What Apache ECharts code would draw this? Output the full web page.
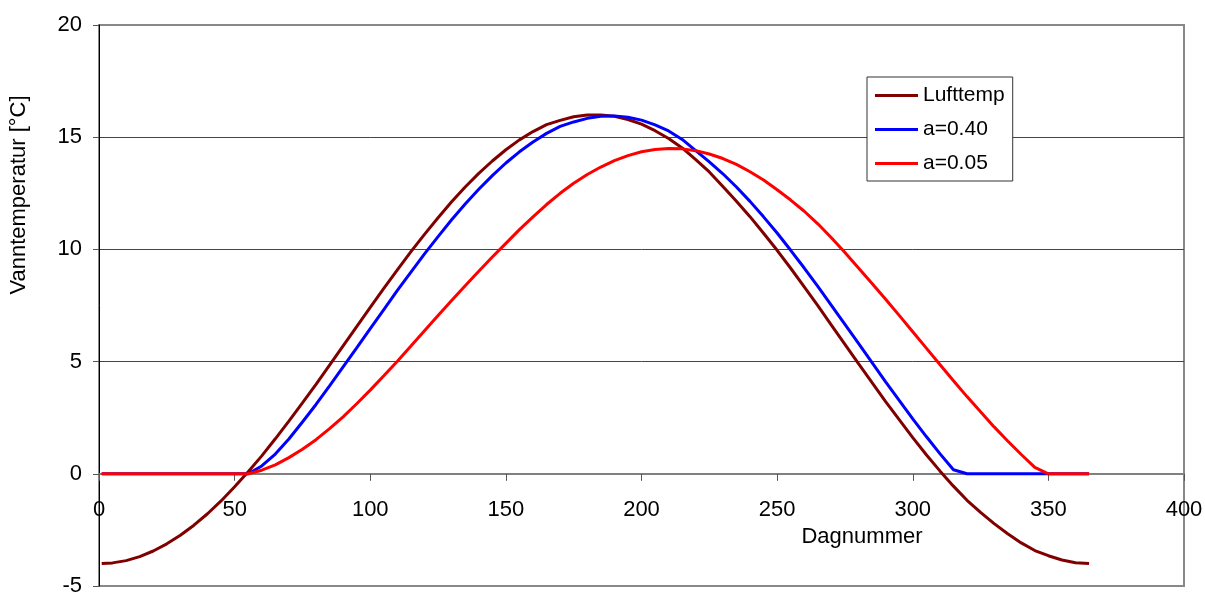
<!DOCTYPE html>
<html>
<head>
<meta charset="utf-8">
<script src="https://cdn.jsdelivr.net/npm/echarts@6/dist/echarts.min.js"></script>
<style>
html,body{margin:0;padding:0;background:#fff;}
#c{width:1205px;height:592px;}
</style>
</head>
<body>
<div id="c"></div>
<script>
const days = [1,5,10,15,20,25,30,35,40,45,
  50,55,60,65,70,75,80,85,90,95,
  100,105,110,115,120,125,130,135,140,145,
  150,155,160,165,170,175,180,185,190,195,
  200,205,210,215,220,225,230,235,240,245,
  250,255,260,265,270,275,280,285,290,295,
  300,305,310,315,320,325,330,335,340,345,
  350,355,360,365];

const lufttemp = [-4.0,-3.97,-3.87,-3.69,-3.44,-3.12,-2.74,-2.29,-1.78,-1.21,
  -0.58,0.09,0.80,1.56,2.35,3.16,3.99,4.84,5.70,6.56,
  7.42,8.26,9.09,9.90,10.67,11.41,12.12,12.78,13.39,13.94,
  14.44,14.88,15.25,15.56,15.75,15.91,15.99,15.99,15.93,15.79,
  15.58,15.29,14.94,14.52,14.00,13.45,12.80,12.15,11.46,10.72,
  9.96,9.16,8.33,7.49,6.63,5.77,4.91,4.06,3.22,2.41,
  1.61,0.85,0.13,-0.55,-1.18,-1.72,-2.22,-2.67,-3.08,-3.42,
  -3.65,-3.84,-3.96,-4.0];

const a040 = [0,0,0,0,0,0,0,0,0,0,
  0,0,0.35,0.88,1.55,2.31,3.09,3.92,4.76,5.61,
  6.47,7.32,8.17,8.99,9.80,10.57,11.32,12.02,12.68,13.29,
  13.85,14.35,14.79,15.17,15.48,15.68,15.84,15.93,15.95,15.89,
  15.76,15.55,15.28,14.90,14.40,13.90,13.37,12.78,12.14,11.45,
  10.73,9.96,9.17,8.35,7.51,6.66,5.81,4.95,4.10,3.27,
  2.45,1.66,0.90,0.18,0,0,0,0,0,0,
  0,0,0,0];

const a005 = [0,0,0,0,0,0,0,0,0,0,
  0,0,0.16,0.40,0.72,1.09,1.52,2.01,2.54,3.12,
  3.73,4.37,5.02,5.69,6.37,7.05,7.72,8.38,9.03,9.66,
  10.27,10.88,11.45,12.00,12.50,12.95,13.34,13.67,13.96,14.18,
  14.35,14.45,14.50,14.48,14.40,14.25,14.05,13.79,13.46,13.09,
  12.66,12.20,11.70,11.14,10.52,9.86,9.17,8.48,7.78,7.06,
  6.33,5.60,4.87,4.15,3.44,2.76,2.09,1.46,0.86,0.29,
  0,0,0,0];

const seriesNames = ['Lufttemp','a=0.40','a=0.05'];
const seriesColors = ['#800000','#0000FF','#FF0000'];
const xTicks = {min:0, max:400, interval:50};
const yTicks = {min:-5, max:20, interval:5};

const FONT = 'Liberation Sans, Arial, sans-serif';
const pairs = arr => days.map((d,i)=>[d, arr[i]]);

const GRID_TOP = 25, GRID_BOTTOM = 6, H = 592;
const plotH = H - GRID_TOP - GRID_BOTTOM;
// offset to put the x-axis at y=0 (moves the axis inward from the bottom)
const zeroOffset = -plotH * (0 - yTicks.min) / (yTicks.max - yTicks.min);

const chart = echarts.init(document.getElementById('c'), null, {renderer:'canvas'});
chart.setOption({
  animation:false,
  backgroundColor:'#fff',
  grid:{left:99, right:21, top:GRID_TOP, bottom:GRID_BOTTOM, containLabel:false, outerBoundsMode:'none',
        show:true, borderColor:'#888', borderWidth:2, backgroundColor:'transparent'},
  xAxis:{
    type:'value', min:xTicks.min, max:xTicks.max, interval:xTicks.interval,
    position:'bottom', offset:zeroOffset,
    axisLine:{onZero:false, lineStyle:{color:'#808080', width:2}},
    axisTick:{show:true, inside:false, length:7, lineStyle:{color:'#555', width:1}},
    axisLabel:{margin:25, color:'#000', fontSize:22, fontFamily:FONT},
    splitLine:{show:false}
  },
  yAxis:{
    type:'value', min:yTicks.min, max:yTicks.max, interval:yTicks.interval,
    axisLine:{show:true, onZero:false, lineStyle:{color:'#000', width:1}},
    axisTick:{show:true, inside:false, length:6, lineStyle:{color:'#555', width:1}},
    axisLabel:{margin:17, color:'#000', fontSize:22, fontFamily:FONT},
    splitLine:{show:true, lineStyle:{color:['#888','#555','#444','#444','#444','#888'], width:1}}
  },
  legend:{
    orient:'vertical', left:867, top:77,
    data:seriesNames,
    icon:'rect',
    itemWidth:43, itemHeight:3, itemGap:13,
    padding:[8,8,7,8],
    backgroundColor:'#fff', borderColor:'#333', borderWidth:1,
    textStyle:{color:'#000', fontSize:21, fontFamily:FONT, lineHeight:21}
  },
  graphic:[
    {type:'text', x:19, y:195, rotation:Math.PI/2,
     style:{text:'Vanntemperatur [°C]', fill:'#000', font:'22px '+FONT, align:'center', verticalAlign:'middle', textAlign:'center', textVerticalAlign:'middle'}},
    {type:'text', x:862, y:537,
     style:{text:'Dagnummer', fill:'#000', font:'22px '+FONT, align:'center', verticalAlign:'middle', textAlign:'center', textVerticalAlign:'middle'}}
  ],
  series:[
    {name:seriesNames[0], type:'line', data:pairs(lufttemp), showSymbol:false, symbol:'none', lineStyle:{color:seriesColors[0], width:3}, itemStyle:{color:seriesColors[0]}, z:2},
    {name:seriesNames[1], type:'line', data:pairs(a040), showSymbol:false, symbol:'none', lineStyle:{color:seriesColors[1], width:3}, itemStyle:{color:seriesColors[1]}, z:3},
    {name:seriesNames[2], type:'line', data:pairs(a005), showSymbol:false, symbol:'none', lineStyle:{color:seriesColors[2], width:3}, itemStyle:{color:seriesColors[2]}, z:4}
  ]
});
</script>
</body>
</html>
